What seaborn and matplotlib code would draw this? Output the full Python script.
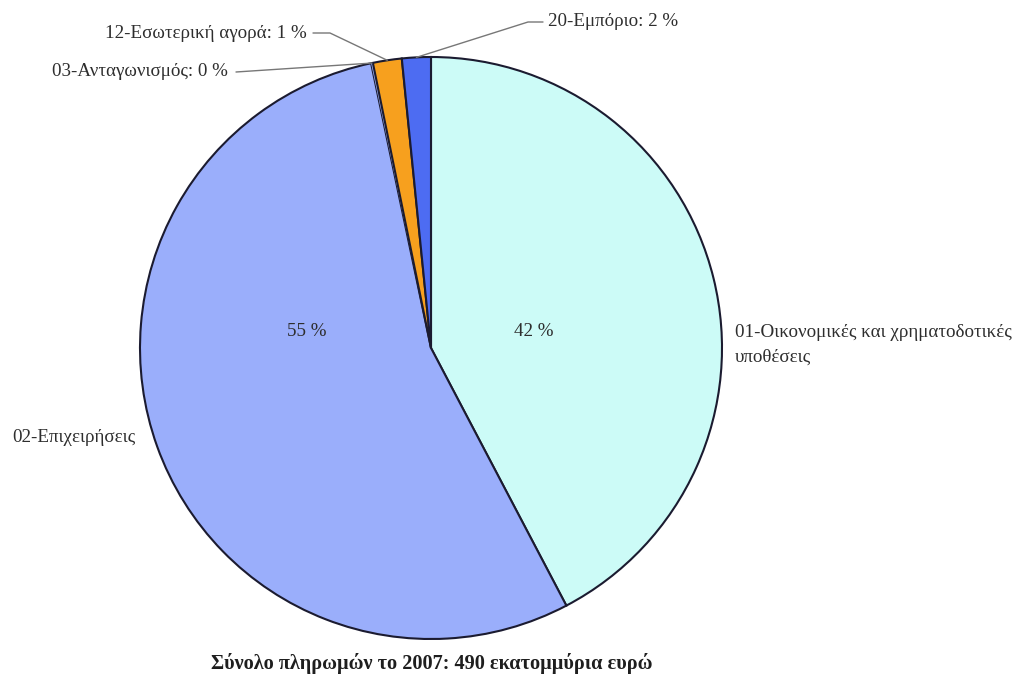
import numpy as np
import matplotlib
matplotlib.use("Agg")
import matplotlib.pyplot as plt
import seaborn as sns

# ──────────────────────────────────────────────
# DATA (shares of total payments, %)
# ──────────────────────────────────────────────
categories = [
    "01-Οικονομικές και χρηματοδοτικές\nυποθέσεις",
    "02-Επιχειρήσεις",
    "03-Ανταγωνισμός",
    "12-Εσωτερική αγορά",
    "20-Εμπόριο",
]
shares = [42.3, 54.4, 0.1, 1.6, 1.6]
pct_labels = ["42 %", "55 %", "0 %", "1 %", "2 %"]
colors = ["#ccfbf7", "#9aaefb", "#9aaefb", "#f7a01e", "#4d6cf2"]
title = "Σύνολο πληρωμών το 2007: 490 εκατομμύρια ευρώ"

sns.set_theme(style="white")
plt.rcParams["font.family"] = ["Liberation Serif", "DejaVu Serif"]

W, H = 1021, 687
fig = plt.figure(figsize=(W / 100, H / 100), dpi=100)
ax = fig.add_axes([0, 0, 1, 1])

cx, cy, R = 431, H - 348, 291
wedges, _ = ax.pie(
    shares,
    colors=colors,
    startangle=90,
    counterclock=False,
    center=(cx, cy),
    radius=R,
    wedgeprops=dict(edgecolor="#1b1b30", linewidth=1.5),
)
# the 0 % slice is too thin to show its own outline
wedges[2].set_linewidth(0)
ax.set_xlim(0, W)
ax.set_ylim(0, H)
ax.set_aspect("auto")
ax.axis("off")

txt = dict(color="#2e2e2e", fontsize=13.7)


def edge_point(w, frac=0.5):
    ang = np.deg2rad(w.theta1 + (w.theta2 - w.theta1) * frac)
    return cx + R * np.cos(ang), cy + R * np.sin(ang)


# inside labels
ax.text(307, H - 331, pct_labels[1], ha="center", va="center", **txt)
ax.text(534, H - 331, pct_labels[0], ha="center", va="center", **txt)

# outside labels for the big slices
ax.text(735, H - 345, categories[0], ha="left", va="center", linespacing=1.6, **txt)
ax.text(12, H - 437, categories[1], ha="left", va="center", **txt)

# small slices with leader lines
line_kw = dict(color="#777777", linewidth=1)

ex, ey = edge_point(wedges[2])
ax.text(228, H - 72, f"{categories[2]}: {pct_labels[2]}", ha="right", va="center", **txt)
ax.plot([236, ex], [H - 72, ey], **line_kw)

ex, ey = edge_point(wedges[3])
ax.text(307, H - 33, f"{categories[3]}: {pct_labels[3]}", ha="right", va="center", **txt)
ax.plot([313, 330, ex], [H - 33, H - 33, ey], **line_kw)

ex, ey = edge_point(wedges[4])
ax.text(548, H - 22, f"{categories[4]}: {pct_labels[4]}", ha="left", va="center", **txt)
ax.plot([543, 528, ex], [H - 22, H - 22, ey], **line_kw)

ax.text(432, H - 663, title, ha="center", va="center",
        fontsize=14.6, fontweight="bold", color="#1e1e1e")

fig.savefig("out.png", dpi=100)
